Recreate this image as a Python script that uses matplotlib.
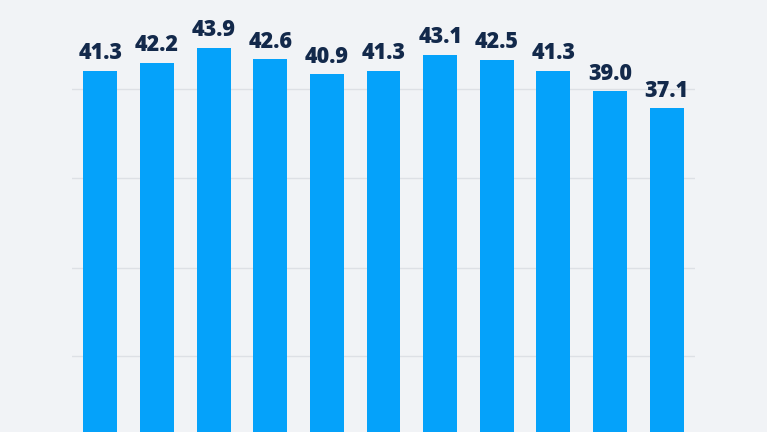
#!/usr/bin/env python3
# -*- coding: utf-8 -*-
"""Bar chart with value labels, cropped at the bottom (11 bars)."""

import numpy as np
import matplotlib.pyplot as plt

# ---------------------------------------------
# data
# ---------------------------------------------
VALUES = [41.3, 42.2, 43.9, 42.6, 40.9, 41.3, 43.1, 42.5, 41.3, 39.0, 37.1]
GRID_LEVELS = [9.5, 19.3, 29.3, 39.25]

BG = '#f1f3f6'
BAR_COLOR = '#05a2fa'
TEXT_COLOR = '#13294b'
GRID_COLOR = '#dde0e5'

plt.rcParams['font.family'] = ['Open Sans', 'DejaVu Sans']

fig = plt.figure(figsize=(7.67, 4.32), dpi=100, facecolor=BG)
ax = fig.add_axes([72 / 767, 0, 623 / 767, 1])
ax.set_facecolor(BG)

x = np.arange(len(VALUES))
ax.bar(x, VALUES, width=0.6, color=BAR_COLOR, zorder=3)

for xi, v in zip(x, VALUES):
    ax.annotate(f'{v:.1f}', xy=(xi, v), xytext=(0, 4),
                textcoords='offset points', ha='center', va='bottom',
                fontsize=15.5, fontweight='heavy', color=TEXT_COLOR, zorder=4)

ax.set_xlim(-0.5, len(VALUES) - 0.5)
ax.set_ylim(1.0, 49.2)
ax.set_yticks(GRID_LEVELS)
ax.yaxis.grid(True, color=GRID_COLOR, linewidth=1.0, zorder=0)
ax.tick_params(left=False, bottom=False, labelleft=False, labelbottom=False)
for s in ax.spines.values():
    s.set_visible(False)

fig.savefig('out.png', dpi=100, facecolor=BG)
